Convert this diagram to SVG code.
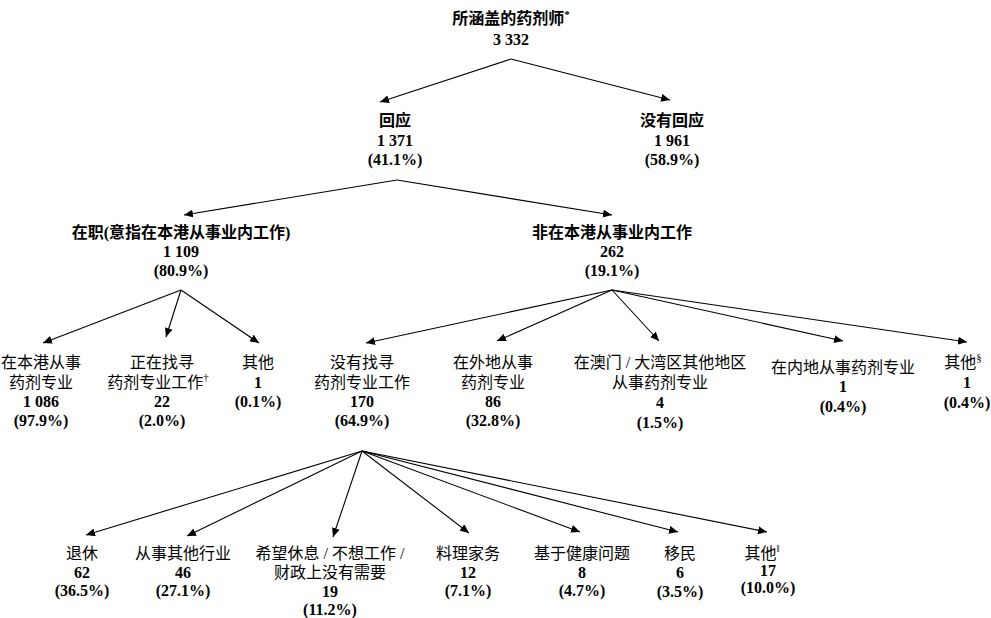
<svg xmlns="http://www.w3.org/2000/svg" width="991" height="618" viewBox="0 0 991 618">
<defs>
<style>
text{font-family:"Liberation Serif","Noto Sans CJK SC",serif;font-size:16px;text-anchor:middle;fill:#000}
.b{font-weight:bold}
.sup{font-size:11px}
.c line{stroke:#000;stroke-width:1.1;marker-end:url(#ah)}
</style>
<marker id="ah" markerUnits="userSpaceOnUse" markerWidth="10" markerHeight="8" refX="9" refY="4" orient="auto">
<path d="M0,0 L9,4 L0,8 z" fill="#000"/>
</marker>
</defs>
<rect width="991" height="618" fill="#fff"/>
<g class="c" id="connectors">
<line x1="511" y1="59" x2="380" y2="102"/>
<line x1="511" y1="59" x2="670" y2="100"/>
<line x1="397" y1="180" x2="184" y2="215"/>
<line x1="397" y1="180" x2="612" y2="215"/>
<line x1="181" y1="290" x2="43" y2="343"/>
<line x1="181" y1="290" x2="166" y2="337"/>
<line x1="181" y1="290" x2="259" y2="343"/>
<line x1="612" y1="290" x2="366" y2="343"/>
<line x1="612" y1="290" x2="497" y2="341"/>
<line x1="612" y1="290" x2="659" y2="341"/>
<line x1="612" y1="290" x2="843" y2="341"/>
<line x1="612" y1="290" x2="967" y2="342"/>
<line x1="362" y1="451" x2="86" y2="535"/>
<line x1="362" y1="451" x2="187" y2="536"/>
<line x1="362" y1="451" x2="333" y2="537"/>
<line x1="362" y1="451" x2="469" y2="533"/>
<line x1="362" y1="451" x2="580" y2="532"/>
<line x1="362" y1="451" x2="678" y2="532"/>
<line x1="362" y1="451" x2="767" y2="532"/>
</g>
<g id="n-root" class="b">
<text x="511" y="24">所涵盖的药剂师<tspan class="sup" dy="-6">*</tspan></text>
<text x="511" y="45">3 332</text>
</g>
<g id="n-resp" class="b">
<text x="395" y="126">回应</text>
<text x="395" y="146">1 371</text>
<text x="395" y="165">(41.1%)</text>
</g>
<g id="n-noresp" class="b">
<text x="672" y="126">没有回应</text>
<text x="672" y="146">1 961</text>
<text x="672" y="165">(58.9%)</text>
</g>
<g id="n-employed" class="b">
<text x="181" y="238">在职(意指在本港从事业内工作)</text>
<text x="181" y="257">1 109</text>
<text x="181" y="276">(80.9%)</text>
</g>
<g id="n-notemployed" class="b">
<text x="612" y="238">非在本港从事业内工作</text>
<text x="612" y="257">262</text>
<text x="612" y="276">(19.1%)</text>
</g>
<g id="n-hk">
<text x="41" y="368">在本港从事</text>
<text x="41" y="388">药剂专业</text>
<text class="b" x="41" y="407">1 086</text>
<text class="b" x="41" y="426">(97.9%)</text>
</g>
<g id="n-seeking">
<text x="162" y="368">正在找寻</text>
<text x="158" y="388">药剂专业工作<tspan class="sup" dy="-7">†</tspan></text>
<text class="b" x="162" y="407">22</text>
<text class="b" x="162" y="426">(2.0%)</text>
</g>
<g id="n-other1">
<text x="258" y="368">其他</text>
<text class="b" x="258" y="388">1</text>
<text class="b" x="258" y="407">(0.1%)</text>
</g>
<g id="n-notseeking">
<text x="362" y="368">没有找寻</text>
<text x="362" y="388">药剂专业工作</text>
<text class="b" x="362" y="407">170</text>
<text class="b" x="362" y="426">(64.9%)</text>
</g>
<g id="n-abroad">
<text x="493" y="368">在外地从事</text>
<text x="493" y="388">药剂专业</text>
<text class="b" x="493" y="407">86</text>
<text class="b" x="493" y="426">(32.8%)</text>
</g>
<g id="n-macau">
<text x="660" y="368">在澳门 / 大湾区其他地区</text>
<text x="660" y="388">从事药剂专业</text>
<text class="b" x="660" y="408">4</text>
<text class="b" x="660" y="428">(1.5%)</text>
</g>
<g id="n-mainland">
<text x="843" y="373">在内地从事药剂专业</text>
<text class="b" x="843" y="392">1</text>
<text class="b" x="843" y="412">(0.4%)</text>
</g>
<g id="n-other2">
<text x="963" y="368">其他<tspan class="sup" dy="-7">§</tspan></text>
<text class="b" x="967" y="388">1</text>
<text class="b" x="967" y="408">(0.4%)</text>
</g>
<g id="n-retired">
<text x="82" y="559">退休</text>
<text class="b" x="82" y="578">62</text>
<text class="b" x="82" y="596">(36.5%)</text>
</g>
<g id="n-otherindustry">
<text x="183" y="559">从事其他行业</text>
<text class="b" x="183" y="578">46</text>
<text class="b" x="183" y="596">(27.1%)</text>
</g>
<g id="n-rest">
<text x="330" y="559">希望休息 / 不想工作 /</text>
<text x="330" y="578">财政上没有需要</text>
<text class="b" x="330" y="597">19</text>
<text class="b" x="330" y="615">(11.2%)</text>
</g>
<g id="n-household">
<text x="468" y="559">料理家务</text>
<text class="b" x="468" y="578">12</text>
<text class="b" x="468" y="596">(7.1%)</text>
</g>
<g id="n-health">
<text x="582" y="559">基于健康问题</text>
<text class="b" x="582" y="578">8</text>
<text class="b" x="582" y="596">(4.7%)</text>
</g>
<g id="n-emigrate">
<text x="680" y="559">移民</text>
<text class="b" x="680" y="578">6</text>
<text class="b" x="680" y="597">(3.5%)</text>
</g>
<g id="n-other3">
<text x="762" y="559">其他<tspan class="sup" dy="-7">‖</tspan></text>
<text class="b" x="768" y="576">17</text>
<text class="b" x="768" y="593">(10.0%)</text>
</g>
</svg>
